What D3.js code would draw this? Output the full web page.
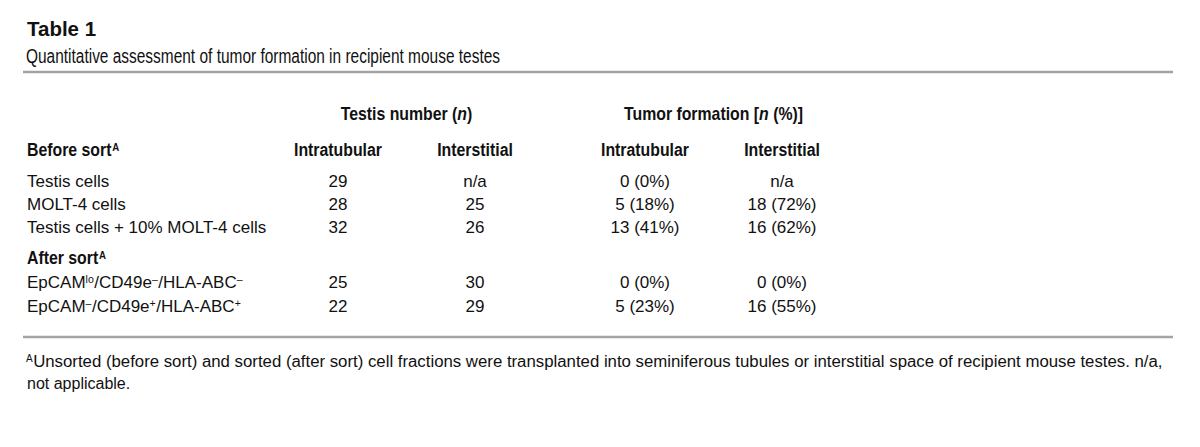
<!DOCTYPE html>
<html><head><meta charset="utf-8">
<script src="https://cdn.jsdelivr.net/npm/d3@7"></script>
<style>body{margin:0;background:#fff}svg{display:block}</style>
</head><body>
<svg id="c" width="1200" height="447"></svg>
<script>
const title = "Table 1";
const subtitle = "Quantitative assessment of tumor formation in recipient mouse testes";
const groupHeaders = [["Testis number (", "n", ")"], ["Tumor formation [", "n", " (%)]"]];
const subHeaders = ["Intratubular", "Interstitial", "Intratubular", "Interstitial"];
const sections = ["Before sort", "After sort"];
const rowLabels = [
  [["Testis cells", ""]],
  [["MOLT-4 cells", ""]],
  [["Testis cells + 10% MOLT-4 cells", ""]],
  [["EpCAM", ""], ["lo", "sup"], ["/CD49e", ""], ["\u2013", "sup"], ["/HLA-ABC", ""], ["\u2013", "sup"]],
  [["EpCAM", ""], ["\u2013", "sup"], ["/CD49e", ""], ["+", "sup"], ["/HLA-ABC", ""], ["+", "sup"]]
];
const testisIntra = ["29", "28", "32", "25", "22"];
const testisInter = ["n/a", "25", "26", "30", "29"];
const tumorIntra = ["0 (0%)", "5 (18%)", "13 (41%)", "0 (0%)", "5 (23%)"];
const tumorInter = ["n/a", "18 (72%)", "16 (62%)", "0 (0%)", "16 (55%)"];
const footnoteMark = "A";
const footnote1 = "Unsorted (before sort) and sorted (after sort) cell fractions were transplanted into seminiferous tubules or interstitial space of recipient mouse testes. n/a,";
const footnote2 = "not applicable.";

const svg = d3.select("#c");
const F = "'Liberation Sans', Arial, Helvetica, sans-serif";
const INK = "#111";
const K = 0.88; // condensed factor for bold headers

function squeeze(sel, k) {
  sel.each(function(){ const L = this.getComputedTextLength(); d3.select(this).attr("textLength", L*k).attr("lengthAdjust","spacingAndGlyphs"); });
}
// condensed group: x,y translate and horizontal scale
function cgroup(x, y, k) {
  return svg.append("g").attr("transform", `translate(${x},${y}) scale(${k},1)`);
}

// title
svg.append("text").attr("x", 27).attr("y", 36).attr("font-family", F).attr("font-weight", "bold")
  .attr("font-size", 20.5).attr("fill", INK).text(title);
svg.append("text").attr("x", 26).attr("y", 63).attr("font-family", F)
  .attr("font-size", 20).attr("fill", INK).text(subtitle).attr("textLength", 474).attr("lengthAdjust","spacingAndGlyphs");

// rules
const xr = d3.scaleLinear().domain([0,1]).range([23, 1173]);
[72, 337].forEach(y => svg.append("line").attr("x1", xr(0)).attr("x2", xr(1)).attr("y1", y).attr("y2", y)
  .attr("stroke", "#a3a3a3").attr("stroke-width", 2.5));

// columns
const colX = d3.scaleOrdinal().domain([0,1,2,3]).range([338, 475, 645, 782]);
const groupX = [ (colX(0)+colX(1))/2, (colX(2)+colX(3))/2 ];

groupHeaders.forEach((g, i) => {
  const t = cgroup(groupX[i], 120, K).append("text").attr("x", 0).attr("y", 0).attr("text-anchor", "middle")
    .attr("font-family", F).attr("font-weight", "bold").attr("font-size", 18).attr("fill", INK);
  t.append("tspan").text(g[0]);
  t.append("tspan").attr("font-style", "italic").text(g[1]);
  t.append("tspan").text(g[2]);
});

subHeaders.forEach((s, i) => {
  svg.append("text").attr("x", colX(i)).attr("y", 156).attr("text-anchor", "middle")
    .attr("font-family", F).attr("font-weight", "bold").attr("font-size", 18).attr("fill", INK)
    .text(s).call(squeeze, K);
});

// rows
const secY = [156, 264];
const rowYs = [187, 210, 233, 288, 312];

sections.forEach((s, i) => {
  const g = cgroup(27, secY[i], K);
  const t = g.append("text").attr("x", 0).attr("y", 0).attr("font-family", F)
    .attr("font-weight", "bold").attr("font-size", 18).attr("fill", INK).text(s);
  const w = t.node().getComputedTextLength();
  g.append("text").attr("x", w + 1).attr("y", -5).attr("font-family", F)
    .attr("font-weight", "bold").attr("font-size", 11).attr("fill", INK).text("A");
});

rowLabels.forEach((parts, r) => {
  let x = 27;
  parts.forEach(p => {
    const sup = p[1] === "sup";
    const t = svg.append("text").attr("x", x).attr("y", rowYs[r] - (sup ? 5 : 0)).attr("font-family", F)
      .attr("font-size", sup ? 10.5 : 17).attr("fill", INK).text(p[0]);
    x += t.node().getComputedTextLength() + (sup ? 0.5 : 0);
  });
});

[testisIntra, testisInter, tumorIntra, tumorInter].forEach((col, c) => {
  col.forEach((v, r) => {
    svg.append("text").attr("x", colX(c)).attr("y", rowYs[r]).attr("text-anchor", "middle")
      .attr("font-family", F).attr("font-size", 17).attr("fill", INK).text(v);
  });
});

// footnote
const fm = svg.append("text").attr("x", 26).attr("y", 362).attr("font-family", F).attr("font-size", 10).attr("fill", INK).text(footnoteMark);
const fmW = fm.node().getComputedTextLength();
svg.append("text").attr("x", 26 + fmW + 0.5).attr("y", 367).attr("font-family", F).attr("font-size", 16).attr("fill", INK)
  .text(footnote1).attr("textLength", 1163 - 27 - fmW).attr("lengthAdjust", "spacingAndGlyphs");
svg.append("text").attr("x", 27).attr("y", 389).attr("font-family", F).attr("font-size", 16).attr("fill", INK).text(footnote2);
</script>
</body></html>
